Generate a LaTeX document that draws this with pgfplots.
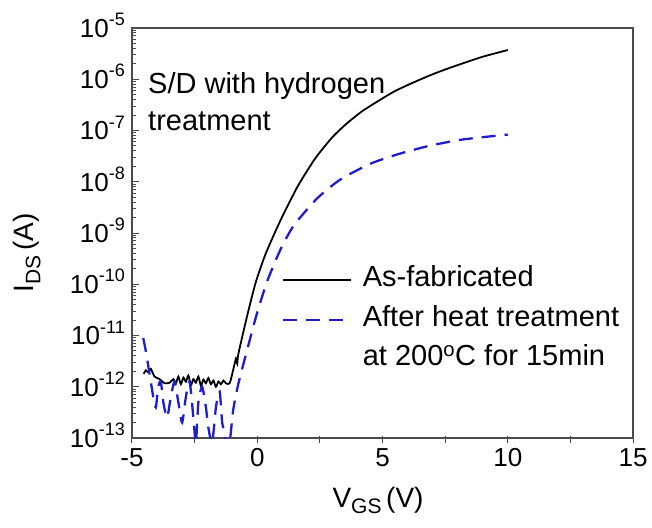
\documentclass[border=0pt]{standalone}
\usepackage{fontspec}
\setmainfont{Liberation Sans}
\usepackage{pgfplots}
\pgfplotsset{compat=1.18}
\definecolor{myblue}{RGB}{30,30,205}
\definecolor{axgray}{RGB}{75,75,75}
\newcommand{\tn}[1]{10\raisebox{0.45em}{\fontsize{18}{18}\selectfont #1}}
\begin{document}
\begin{tikzpicture}
\begin{axis}[
  scale only axis, width=501pt, height=410pt,
  xmin=-5, xmax=15, ymode=log, ymin=1e-13, ymax=1e-5,
  axis line style={axgray, line width=1.3pt},
  every tick/.style={axgray, line width=1pt},
  tick align=inside,
  major tick length=7pt, minor tick length=4pt,
  xtick pos=bottom, ytick pos=left,
  xtick={-5,-2.5,0,2.5,5,7.5,10,12.5,15},
  xticklabels={-5,,0,,5,,10,,15},
  xtick style={yshift=-5pt},
  minor xtick={},
  ytick={1e-13,1e-12,1e-11,1e-10,1e-9,1e-8,1e-7,1e-6,1e-5},
  yticklabels={\tn{-13},\tn{-12},\tn{-11},\tn{-10},\tn{-9},\tn{-8},\tn{-7},\tn{-6},\tn{-5}},
  minor ytick={2e-13,3e-13,4e-13,5e-13,6e-13,7e-13,8e-13,9e-13,
    2e-12,3e-12,4e-12,5e-12,6e-12,7e-12,8e-12,9e-12,
    2e-11,3e-11,4e-11,5e-11,6e-11,7e-11,8e-11,9e-11,
    2e-10,3e-10,4e-10,5e-10,6e-10,7e-10,8e-10,9e-10,
    2e-9,3e-9,4e-9,5e-9,6e-9,7e-9,8e-9,9e-9,
    2e-8,3e-8,4e-8,5e-8,6e-8,7e-8,8e-8,9e-8,
    2e-7,3e-7,4e-7,5e-7,6e-7,7e-7,8e-7,9e-7,
    2e-6,3e-6,4e-6,5e-6,6e-6,7e-6,8e-6,9e-6},
  xticklabel style={font=\fontsize{26}{26}\selectfont, inner sep=0pt, yshift=-10pt},
  yticklabel style={font=\fontsize{26}{26}\selectfont, inner sep=0pt, anchor=base east, xshift=-7pt, yshift=-9.3pt},
  legend image code/.code={\draw[#1] (0pt,0pt) -- (68pt,0pt);},
  legend cell align=left,
  legend style={at={(rel axis cs:0.298,0.418)}, anchor=north west, draw=none, fill=none,
    inner sep=0pt, row sep=12.5pt, column sep=11pt,
    font=\fontsize{29}{29}\selectfont,
    nodes={inner sep=0pt, text height=20pt, text depth=7pt}},
]
\addplot[black, line width=1.8pt, smooth, tension=0.4] coordinates {
(-4.53,1.78e-12) (-4.45,2.09e-12) (-4.35,1.91e-12) (-4.25,2.24e-12) (-4.1,1.58e-12)
(-3.9,1.41e-12) (-3.7,1.17e-12) (-3.5,1.20e-12) (-3.35,1.41e-12) (-3.25,1.17e-12)
(-3.15,1.58e-12) (-3.05,1.12e-12) (-2.95,1.51e-12) (-2.85,1.26e-12) (-2.75,1.66e-12)
(-2.65,1.07e-12) (-2.55,1.41e-12) (-2.45,1.20e-12) (-2.35,1.58e-12) (-2.25,1.05e-12)
(-2.15,1.38e-12) (-2.05,1.17e-12) (-1.95,1.48e-12) (-1.85,1.12e-12) (-1.75,1.32e-12)
(-1.65,1.00e-12) (-1.55,1.26e-12) (-1.45,1.12e-12) (-1.35,1.32e-12) (-1.25,1.17e-12)
(-1.1,1.17e-12) (-0.95,2.24e-12) (-0.85,3.55e-12) (-0.8,2.82e-12) (-0.75,4.47e-12)
(-0.41,2.34e-11) (-0.07,1.05e-10) (0.3,3.55e-10) (0.65,8.91e-10)
(1.0,2.09e-9) (1.58,7.59e-9) (2.0,1.66e-8) (2.38,3.16e-8) (3.0,7.41e-8)
(3.58,1.38e-7) (4.2,2.40e-7) (4.91,3.98e-7) (5.5,5.89e-7) (6.2,8.51e-7)
(6.91,1.20e-6) (7.5,1.55e-6) (8.2,2.04e-6) (9.0,2.75e-6) (10.0,3.72e-6)
};
\addlegendentry{As-fabricated}
\addplot[myblue, line width=2.3pt, dash pattern=on 14pt off 9pt, smooth, tension=0.4] coordinates {
(-4.55,8.91e-12) (-4.45,5.01e-12) (-4.35,2.51e-12) (-4.25,1.26e-12) (-4.15,6.31e-13)
(-4.05,3.98e-13) (-3.95,1.0e-12) (-3.85,1.26e-12) (-3.75,5.01e-13) (-3.6,2.51e-13)
(-3.45,6.31e-13) (-3.3,1.26e-12) (-3.15,5.01e-13) (-3.0,2.0e-13) (-2.85,6.31e-13)
(-2.7,1.26e-12) (-2.55,2.51e-13) (-2.45,7.94e-14) (-2.35,5.01e-13) (-2.2,1.0e-12)
(-2.05,3.98e-13) (-1.95,1.58e-13) (-1.8,7.94e-14) (-1.65,3.98e-13) (-1.5,7.94e-13)
(-1.4,2.0e-13) (-1.3,1.26e-13) (-1.2,6.31e-14) (-1.08,1.0e-13) (-0.96,3.55e-13)
(-0.75,1.17e-12) (-0.37,6.03e-12) (-0.03,2.51e-11) (0.39,1.12e-10) (0.92,4.68e-10)
(1.45,1.38e-9) (2.38,4.68e-9) (3.31,1.10e-8) (4.51,2.24e-8) (5.57,3.39e-8)
(6.77,4.90e-8) (8.0,6.46e-8) (9.0,7.41e-8) (10.0,8.32e-8)
};
\addlegendentry{After heat treatment}
\addlegendimage{empty legend}
\addlegendentry{at 200\textsuperscript{o}C for 15min}
\node[anchor=north west, align=left, inner sep=0pt, font=\fontsize{29}{37}\selectfont]
  at (rel axis cs:0.032,0.893) {S/D with hydrogen\\treatment};
\coordinate (sw) at (rel axis cs:0,0);
\coordinate (ne) at (rel axis cs:1,1);
\end{axis}
\node[anchor=base, font=\fontsize{28}{28}\selectfont] at ([xshift=246pt,yshift=-69pt]sw)
  {V{\fontsize{21}{21}\selectfont\raisebox{-0.3em}{GS}}\,(V)};
\node[anchor=base, rotate=90, font=\fontsize{28}{28}\selectfont] at ([xshift=-98pt,yshift=185pt]sw)
  {I{\fontsize{21}{21}\selectfont\raisebox{-0.3em}{DS}}\,(A)};
\pgfresetboundingbox
\path[use as bounding box] ([xshift=-132pt,yshift=-89pt]sw) rectangle ([xshift=19pt,yshift=28pt]ne);
\end{tikzpicture}
\end{document}
